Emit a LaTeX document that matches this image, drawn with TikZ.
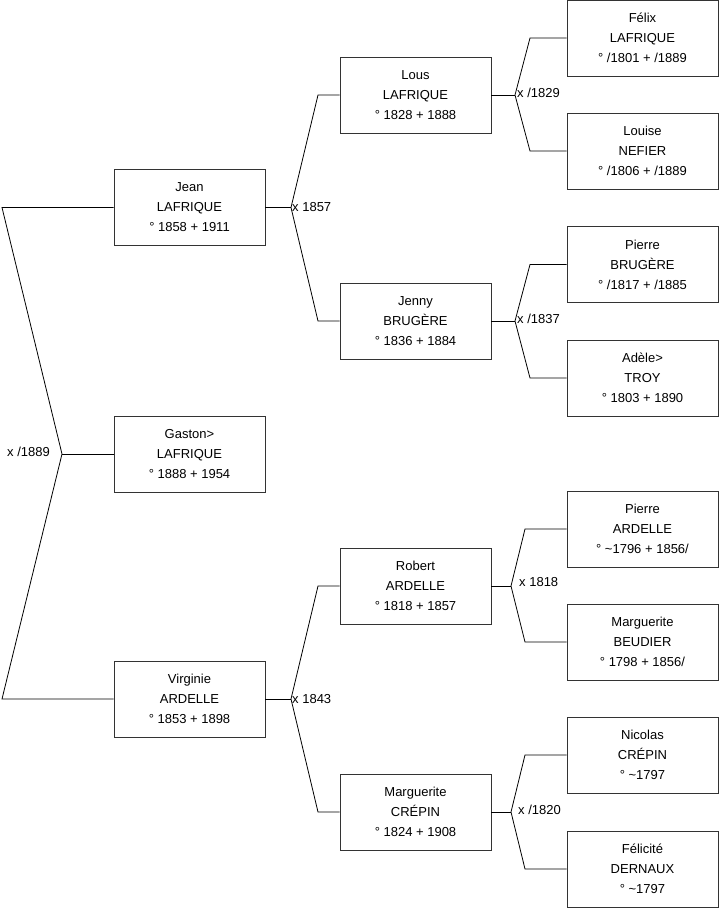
\documentclass[tikz,border=0pt]{standalone}
\usepackage{fontspec}
\setmainfont{Liberation Sans}
\begin{document}
\begin{tikzpicture}[x=1pt,y=-1pt,
  person/.style={draw=black!80, line width=0.8pt, fill=white, minimum width=151pt, minimum height=76pt, inner sep=0pt, align=center, font=\fontsize{13}{20}\selectfont},
  link/.style={draw=black, line width=0.8pt},
  mlabel/.style={anchor=west, inner sep=1pt, font=\fontsize{13}{15}\selectfont}]
\useasboundingbox (0,0) rectangle (719,908);
% column 1
\node[person] (jean) at (189.5,207.5) {Jean\\LAFRIQUE\\° 1858 + 1911};
\node[person] (gaston) at (189.5,454) {Gaston>\\LAFRIQUE\\° 1888 + 1954};
\node[person] (virginie) at (189.5,699) {Virginie\\ARDELLE\\° 1853 + 1898};
% column 2
\node[person] (lous) at (415.5,95) {Lous\\LAFRIQUE\\° 1828 + 1888};
\node[person] (jenny) at (415.5,321) {Jenny\\BRUGÈRE\\° 1836 + 1884};
\node[person] (robert) at (415.5,586) {Robert\\ARDELLE\\° 1818 + 1857};
\node[person] (margc) at (415.5,812) {Marguerite\\CRÉPIN\\° 1824 + 1908};
% column 3
\node[person] (felix) at (642.5,38) {Félix\\LAFRIQUE\\° /1801 + /1889};
\node[person] (louise) at (642.5,151) {Louise\\NEFIER\\° /1806 + /1889};
\node[person] (pierreb) at (642.5,264.5) {Pierre\\BRUGÈRE\\° /1817 + /1885};
\node[person] (adele) at (642.5,378) {Adèle>\\TROY\\° 1803 + 1890};
\node[person] (pierrea) at (642.5,529) {Pierre\\ARDELLE\\° \textasciitilde 1796 + 1856/};
\node[person] (margb) at (642.5,642) {Marguerite\\BEUDIER\\° 1798 + 1856/};
\node[person] (nicolas) at (642.5,755) {Nicolas\\CRÉPIN\\° \textasciitilde 1797};
\node[person] (felicite) at (642.5,869) {Félicité\\DERNAUX\\° \textasciitilde 1797};
% fork for Gaston
\coordinate (g0) at (62,454);
\coordinate (g1) at (2,207.5);
\coordinate (g2) at (2,699);
\draw[link] (jean.west) -- (g1) -- (g0) -- (g2) -- (virginie.west);
\draw[link] (g0) -- (gaston.west);
\node[mlabel, anchor=east] (lg) at (51,452) {x /1889};
% fork for Jean
\coordinate (j0) at (291,207.5);
\coordinate (j1) at (318,95);
\coordinate (j2) at (318,321);
\draw[link] (jean.east) -- (j0);
\draw[link] (lous.west) -- (j1) -- (j0) -- (j2) -- (jenny.west);
\node[mlabel] (lj) at (j0) {x 1857};
% fork for Virginie
\coordinate (v0) at (291,699);
\coordinate (v1) at (318,586);
\coordinate (v2) at (318,812);
\draw[link] (virginie.east) -- (v0);
\draw[link] (robert.west) -- (v1) -- (v0) -- (v2) -- (margc.west);
\node[mlabel] (lv) at (v0) {x 1843};
% fork for Lous
\coordinate (l0) at (515,95);
\coordinate (l1) at (530,38);
\coordinate (l2) at (530,151);
\draw[link] (lous.east) -- (l0);
\draw[link] (felix.west) -- (l1) -- (l0) -- (l2) -- (louise.west);
\node[mlabel] (ll) at (516,93) {x /1829};
% fork for Jenny
\coordinate (e0) at (515,321);
\coordinate (e1) at (530,264.5);
\coordinate (e2) at (530,378);
\draw[link] (jenny.east) -- (e0);
\draw[link] (pierreb.west) -- (e1) -- (e0) -- (e2) -- (adele.west);
\node[mlabel] (le) at (516,319) {x /1837};
% fork for Robert
\coordinate (r0) at (511,586);
\coordinate (r1) at (525,529);
\coordinate (r2) at (525,642);
\draw[link] (robert.east) -- (r0);
\draw[link] (pierrea.west) -- (r1) -- (r0) -- (r2) -- (margb.west);
\node[mlabel] (lr) at (518,582) {x 1818};
% fork for Marguerite
\coordinate (m0) at (511,812);
\coordinate (m1) at (525,755);
\coordinate (m2) at (525,869);
\draw[link] (margc.east) -- (m0);
\draw[link] (nicolas.west) -- (m1) -- (m0) -- (m2) -- (felicite.west);
\node[mlabel] (lm) at (517,810) {x /1820};
\end{tikzpicture}
\end{document}
